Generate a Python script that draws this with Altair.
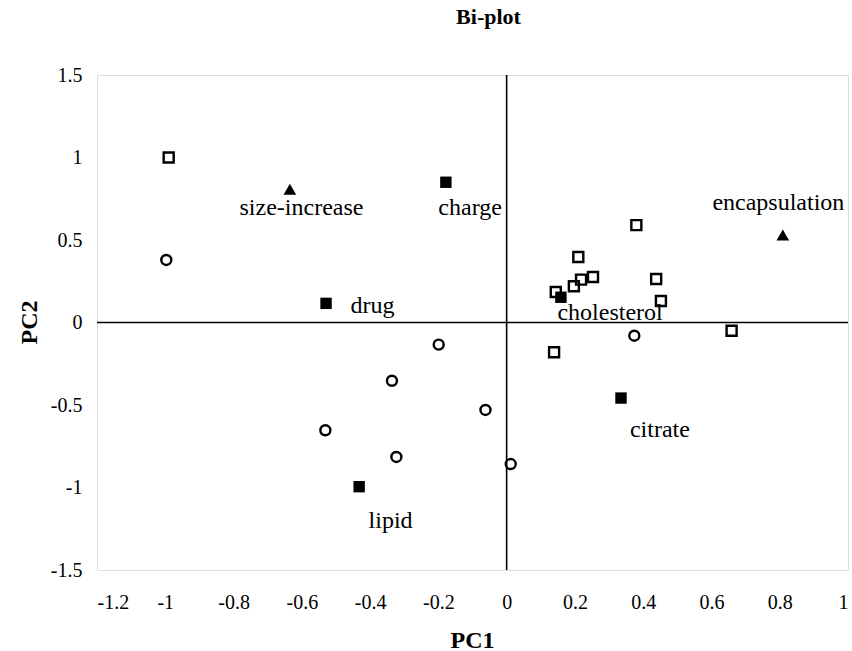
import altair as alt
import pandas as pd

# open squares (objects / formulations)
sq_x = [-0.99, 0.38, 0.21, 0.218, 0.253, 0.197, 0.144, 0.438, 0.452, 0.659, 0.139]
sq_y = [1.00, 0.59, 0.397, 0.26, 0.276, 0.22, 0.185, 0.264, 0.13, -0.05, -0.18]

# open circles
ci_x = [-0.997, -0.199, -0.336, -0.062, -0.531, -0.323, 0.012, 0.374]
ci_y = [0.379, -0.134, -0.353, -0.53, -0.653, -0.815, -0.858, -0.08]

# filled squares (variables)
fs_name = ["charge", "drug", "cholesterol", "citrate", "lipid"]
fs_x = [-0.178, -0.529, 0.159, 0.335, -0.432]
fs_y = [0.85, 0.116, 0.153, -0.458, -0.995]

# filled triangles (responses)
tr_name = ["size-increase", "encapsulation"]
tr_x = [-0.635, 0.809]
tr_y = [0.807, 0.53]

# text labels
lb_text = ["size-increase", "charge", "drug", "cholesterol", "encapsulation", "citrate", "lipid"]
lb_x = [-0.601, -0.107, -0.393, 0.303, 0.796, 0.449, -0.34]
lb_y = [0.652, 0.652, 0.056, 0.015, 0.682, -0.694, -1.245]

x_ticks = [-1.2, -1.0, -0.8, -0.6, -0.4, -0.2, 0.0, 0.2, 0.4, 0.6, 0.8, 1.0]
y_ticks = [-1.5, -1.0, -0.5, 0.0, 0.5, 1.0, 1.5]

FONT = "Liberation Serif"

xs = alt.Scale(domain=[-1.2, 1.0], nice=False, zero=False)
ys = alt.Scale(domain=[-1.5, 1.5], nice=False, zero=False)

xax = alt.Axis(values=x_ticks, grid=False, ticks=False, domain=False,
               labelExpr="replace(format(datum.value, '~g'), '\u2212', '-')",
               labelFont=FONT, labelFontSize=20, labelColor="black", labelPadding=22,
               title="PC1", titleFont=FONT, titleFontSize=24, titleFontWeight="bold",
               titleColor="black", titleX=375, titleY=70, titleBaseline="middle",
               titleAlign="center")
yax = alt.Axis(values=y_ticks, grid=False, ticks=False, domain=False,
               labelExpr="replace(format(datum.value, '~g'), '\u2212', '-')",
               labelFont=FONT, labelFontSize=20, labelColor="black", labelPadding=15,
               title="PC2", titleFont=FONT, titleFontSize=24, titleFontWeight="bold",
               titleColor="black", titleX=-68, titleY=247, titleBaseline="middle",
               titleAlign="center", titleAngle=-90)

df_sq = pd.DataFrame({"x": sq_x, "y": sq_y})
df_ci = pd.DataFrame({"x": ci_x, "y": ci_y})
df_fs = pd.DataFrame({"x": fs_x, "y": fs_y, "n": fs_name})
df_tr = pd.DataFrame({"x": tr_x, "y": tr_y, "n": tr_name})
df_lb = pd.DataFrame({"x": lb_x, "y": lb_y, "t": lb_text})
df_zero = pd.DataFrame({"v": [0.0]})

vline = alt.Chart(df_zero).mark_rule(color="black", strokeWidth=1.6).encode(
    x=alt.X("v:Q", scale=xs, axis=xax))
hline = alt.Chart(df_zero).mark_rule(color="black", strokeWidth=1.6).encode(
    y=alt.Y("v:Q", scale=ys, axis=yax))

squares = alt.Chart(df_sq).mark_point(shape="square", size=100, filled=False,
                                      stroke="black", strokeWidth=2.4, opacity=1).encode(
    x=alt.X("x:Q", scale=xs, axis=xax), y=alt.Y("y:Q", scale=ys, axis=yax))
circles = alt.Chart(df_ci).mark_point(shape="circle", size=100, filled=False,
                                      stroke="black", strokeWidth=2.4, opacity=1).encode(
    x=alt.X("x:Q", scale=xs, axis=xax), y=alt.Y("y:Q", scale=ys, axis=yax))
fsq = alt.Chart(df_fs).mark_point(shape="square", size=130, filled=True,
                                  color="black", opacity=1).encode(
    x=alt.X("x:Q", scale=xs, axis=xax), y=alt.Y("y:Q", scale=ys, axis=yax))
tri = alt.Chart(df_tr).mark_point(shape="triangle-up", size=160, filled=True,
                                  color="black", opacity=1).encode(
    x=alt.X("x:Q", scale=xs, axis=xax), y=alt.Y("y:Q", scale=ys, axis=yax))
labels = alt.Chart(df_lb).mark_text(font=FONT, fontSize=24, color="black",
                                    align="center", baseline="alphabetic").encode(
    x=alt.X("x:Q", scale=xs, axis=xax), y=alt.Y("y:Q", scale=ys, axis=yax), text="t:N")

chart = alt.layer(vline, hline, squares, circles, fsq, tri, labels).properties(
    width=751, height=495,
    title=alt.TitleParams("Bi-plot", font=FONT, fontSize=22, fontWeight="bold",
                          color="black", anchor="middle", dx=16, offset=19,
                          baseline="alphabetic"),
    autosize=alt.AutoSizeParams(type="none"),
    padding={"left": 97, "top": 75, "right": 4, "bottom": 81},
).configure_view(stroke="black", strokeWidth=2.4).configure(background="white")

chart.save("out.html", embed_options={"renderer": "svg", "actions": False})
